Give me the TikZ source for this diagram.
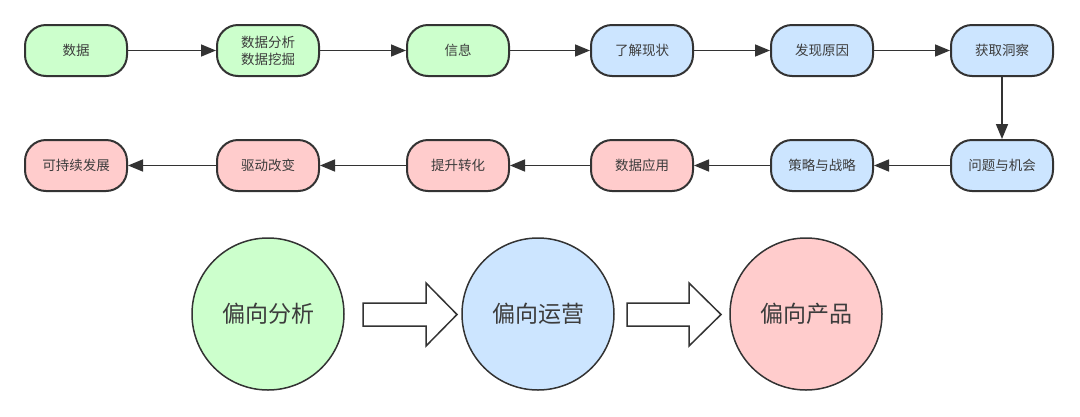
\documentclass[tikz,border=0pt]{standalone}
\usepackage{fontspec}
\newfontfamily\cjk{Noto Sans CJK SC}
\usetikzlibrary{arrows.meta}
\definecolor{gfill}{HTML}{CCFFCC}
\definecolor{bfill}{HTML}{CCE5FF}
\definecolor{pfill}{HTML}{FFCCCC}
\definecolor{edge}{HTML}{333333}
\definecolor{txt}{HTML}{3C3C3C}
\begin{document}
\begin{tikzpicture}[x=1pt,y=-1pt,
  stepbox/.style={draw=edge,line width=2pt,rounded corners=21pt,minimum width=102pt,minimum height=51pt,inner sep=0pt,align=center,text=txt,font=\cjk\fontsize{13.5}{17}\selectfont},
  gbox/.style={stepbox,fill=gfill},
  bbox/.style={stepbox,fill=bfill},
  pbox/.style={stepbox,fill=pfill},
  bigc/.style={draw=edge,line width=1.5pt,circle,minimum size=152pt,inner sep=0pt,text=txt,font=\cjk\fontsize{23}{28}\selectfont},
  conn/.style={draw=edge,line width=1.6pt,-{Triangle[width=12pt,length=15pt]}},
  fatarrow/.style={draw=edge,line width=1.5pt,fill=white,line join=miter}
]
\useasboundingbox (0,0) rectangle (1080,416);
\fill[white] (0,0) rectangle (1080,416);
% row 1
\node[gbox] (a1) at (76,50.5) {数据};
\node[gbox] (a2) at (268,50.5) {数据分析\\数据挖掘};
\node[gbox] (a3) at (458,50.5) {信息};
\node[bbox] (a4) at (642,50.5) {了解现状};
\node[bbox] (a5) at (822,50.5) {发现原因};
\node[bbox] (a6) at (1002,50.5) {获取洞察};
% row 2
\node[bbox] (b6) at (1002,165.5) {问题与机会};
\node[bbox] (b5) at (822,165.5) {策略与战略};
\node[pbox] (b4) at (642,165.5) {数据应用};
\node[pbox] (b3) at (458,165.5) {提升转化};
\node[pbox] (b2) at (268,165.5) {驱动改变};
\node[pbox] (b1) at (76,165.5) {可持续发展};
% connectors
\draw[conn] (a1) -- (a2);
\draw[conn] (a2) -- (a3);
\draw[conn] (a3) -- (a4);
\draw[conn] (a4) -- (a5);
\draw[conn] (a5) -- (a6);
\draw[conn] (a6) -- (b6);
\draw[conn] (b6) -- (b5);
\draw[conn] (b5) -- (b4);
\draw[conn] (b4) -- (b3);
\draw[conn] (b3) -- (b2);
\draw[conn] (b2) -- (b1);
% circles
\node[bigc,fill=gfill] (c1) at (268,314) {偏向分析};
\node[bigc,fill=bfill] (c2) at (538,314) {偏向运营};
\node[bigc,fill=pfill] (c3) at (806,314) {偏向产品};
% fat arrows
\draw[fatarrow] (363,303) -- (426,303) -- (426,283) -- (457,314.5) -- (426,346) -- (426,326) -- (363,326) -- cycle;
\draw[fatarrow] (627,303) -- (689,303) -- (689,283) -- (721,314.5) -- (689,346) -- (689,326) -- (627,326) -- cycle;
\end{tikzpicture}
\end{document}
